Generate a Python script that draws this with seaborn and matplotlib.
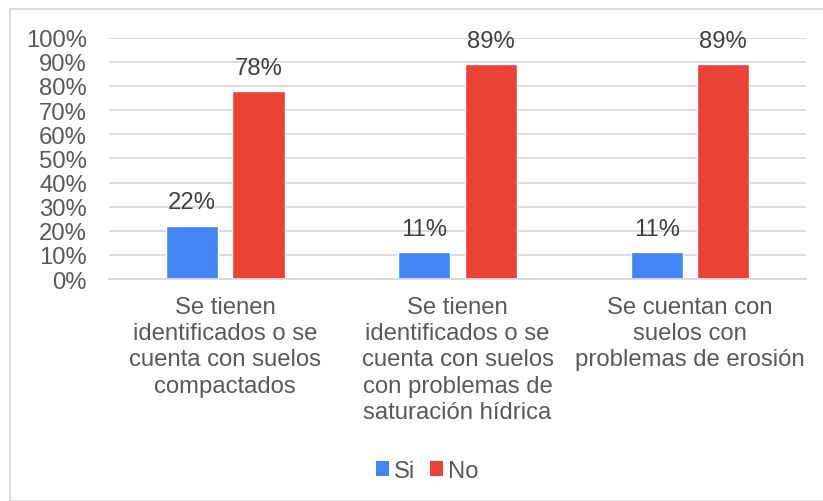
import matplotlib
matplotlib.use("Agg")
import matplotlib.pyplot as plt
import seaborn as sns
import pandas as pd
from matplotlib.patches import Rectangle, Patch

categories = [
    "Se tienen\nidentificados o se\ncuenta con suelos\ncompactados",
    "Se tienen\nidentificados o se\ncuenta con suelos\ncon problemas de\nsaturación hídrica",
    "Se cuentan con\nsuelos con\nproblemas de erosión",
]
series = ["Si", "No"]
si_values = [0.222, 0.111, 0.111]
no_values = [0.778, 0.889, 0.889]
y_ticks = [0, 0.1, 0.2, 0.3, 0.4, 0.5, 0.6, 0.7, 0.8, 0.9, 1.0]
colors = {"Si": "#4285F4", "No": "#EA4335"}

df = pd.DataFrame({
    "cat": categories * 2,
    "serie": ["Si"] * 3 + ["No"] * 3,
    "val": si_values + no_values,
})

sns.set_theme(style="white")
plt.rcParams["font.family"] = ["Liberation Sans", "DejaVu Sans"]

FS = 17.2

fig = plt.figure(figsize=(8.23, 5.02), dpi=100)
ax = fig.add_axes([0.1325, 0.442, 0.847, 0.481])

sns.barplot(data=df, x="cat", y="val", hue="serie", hue_order=series,
            palette=colors, width=0.573, gap=0.218, ax=ax,
            saturation=1, legend=False, errorbar=None)

ax.set_ylim(0, 1.0)
ax.set_xlim(-0.5, 2.5)
ax.set_yticks(y_ticks)
ax.set_yticklabels([f"{int(round(t*100))}%" for t in y_ticks])
ax.yaxis.grid(True, color="#d9d9d9", linewidth=1.3)
ax.set_axisbelow(True)
for s in ["left", "right", "top"]:
    ax.spines[s].set_visible(False)
ax.spines["bottom"].set_color("#d9d9d9")
ax.spines["bottom"].set_linewidth(1.3)
ax.tick_params(axis="both", length=0, labelsize=FS, colors="#595959")
ax.tick_params(axis="y", pad=16)
ax.tick_params(axis="x", pad=12)
for lbl in ax.get_xticklabels():
    lbl.set_linespacing(1.25)
ax.set_xlabel("")
ax.set_ylabel("")

for cont in ax.containers:
    ax.bar_label(cont, labels=[f"{v*100:.0f}%" for v in cont.datavalues],
                 padding=9, fontsize=FS, color="#404040")

handles = [Patch(facecolor=colors[s], edgecolor="none", label=s) for s in series]
leg = fig.legend(handles=handles, loc="center", bbox_to_anchor=(0.519, 0.06),
                 ncol=2, frameon=False, fontsize=FS, handlelength=0.55,
                 handleheight=0.55, handletextpad=0.2, columnspacing=0.6,
                 borderpad=0, borderaxespad=0)
for t in leg.get_texts():
    t.set_color("#595959")

fig.patches.append(Rectangle((9.5 / 823, 0), 1, 1 - 9.5 / 502, transform=fig.transFigure,
                             fill=False, edgecolor="#d9d9d9", linewidth=1.3))

fig.savefig("out.png", dpi=100)
